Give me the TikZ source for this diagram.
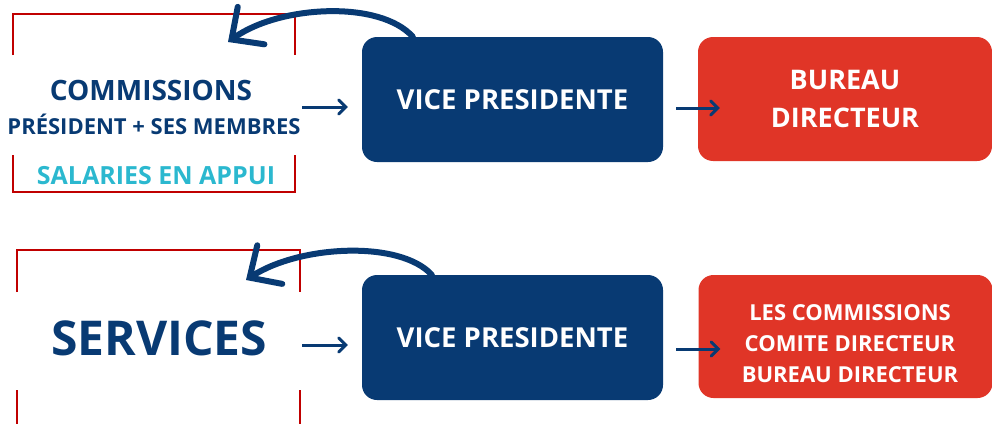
\documentclass[tikz,border=0pt]{standalone}
\usepackage{fontspec}
\setmainfont{Open Sans}
\usetikzlibrary{arrows.meta}
\definecolor{vpblue}{HTML}{083A73}
\definecolor{boxred}{HTML}{E03527}
\definecolor{framered}{HTML}{C00000}
\definecolor{helpcyan}{HTML}{2BB8CF}
\begin{document}
\begin{tikzpicture}[x=1pt, y=-1pt, font=\bfseries,
    vp node/.style={rectangle, rounded corners=15pt, fill=vpblue, text=white, minimum width=301pt, minimum height=125pt, font=\bfseries\fontsize{27.5}{30}\selectfont},
    red node/.style={rectangle, rounded corners=15pt, fill=boxred, text=white, minimum width=294pt, minimum height=124pt, align=center},
    frame line/.style={framered, line width=2pt},
    small arrow/.style={vpblue, line width=3pt, -{Straight Barb[length=7pt, width=14pt, line cap=round]}},
    bend arrow/.style={vpblue, line width=6pt, line cap=round, -{Straight Barb[length=24pt, width=46pt, line cap=round]}}]
\useasboundingbox (0,0) rectangle (992,423);
% top row
\draw[frame line] (13,55) -- (13,14) -- (295,14) -- (295,55);
\draw[frame line] (13,155) -- (13,192) -- (295,192) -- (295,155);
\node[text=vpblue, font=\bfseries\fontsize{28}{30}\selectfont] (comm) at (151,90) {COMMISSIONS};
\node[text=vpblue, font=\bfseries\fontsize{22}{26}\selectfont] (pres) at (154,124) {PRÉSIDENT + SES MEMBRES};
\node[text=helpcyan, font=\bfseries\fontsize{25}{28}\selectfont] (sal) at (156,176) {SALARIES EN APPUI};
\node[vp node] (vp1) at (512.5,99.5) {VICE PRESIDENTE};
\node[red node, font=\bfseries\fontsize{27}{38}\selectfont] (bd1) at (845,99) {BUREAU\\DIRECTEUR};
\coordinate (tip1) at (228,42);
\coordinate (from1) at (302,107);
\coordinate (from1b) at (676,108);
\draw[small arrow] (from1) -- ([xshift=-14pt]vp1.west |- from1);
\draw[small arrow] (from1b) -- ([xshift=22pt]bd1.west |- from1b);
\draw[bend arrow] ([xshift=51pt]vp1.north west) .. controls (380,0) and (280,5) .. (tip1);
% bottom row
\draw[frame line] (17,292) -- (17,250) -- (300,250) -- (300,292);
\draw[frame line] (17,390) -- (17,430) -- (300,430) -- (300,390);
\node[text=vpblue, font=\bfseries\fontsize{48}{52}\selectfont] (serv) at (159,338) {SERVICES};
\node[vp node] (vp2) at (512.5,337.5) {VICE PRESIDENTE};
\node[red node, minimum height=123pt] (bd2) at (845.5,336.5) {};
\node[text=white, align=center, font=\bfseries\fontsize{22}{31}\selectfont] (bd2text) at (850,344) {LES COMMISSIONS\\COMITE DIRECTEUR\\BUREAU DIRECTEUR};
\coordinate (from2) at (302,345);
\coordinate (from2b) at (676,349);
\coordinate (tip2) at (246,280);
\draw[small arrow] (from2) -- ([xshift=-14pt]vp2.west |- from2);
\draw[small arrow] (from2b) -- ([xshift=22pt]bd2.west |- from2b);
\draw[bend arrow] ([xshift=70pt]vp2.north west) .. controls (400,240) and (300,245) .. (tip2);
\end{tikzpicture}
\end{document}
